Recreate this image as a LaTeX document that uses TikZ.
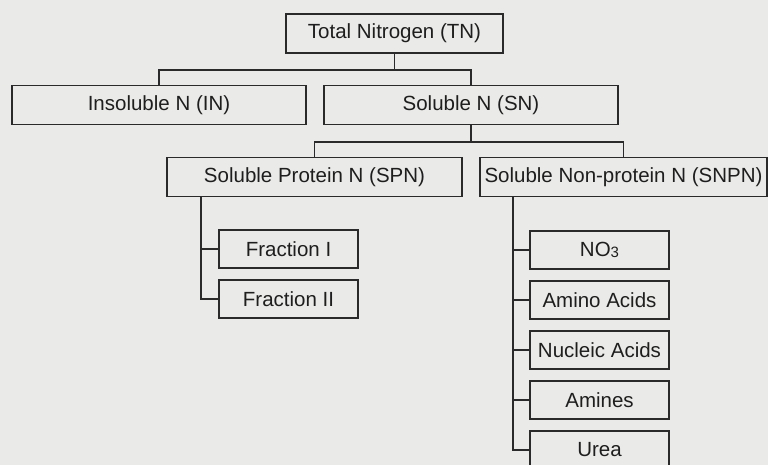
\documentclass[tikz,border=0pt]{standalone}
\usepackage{fontspec}
\setmainfont{Liberation Sans}
\usetikzlibrary{positioning}
\definecolor{paper}{HTML}{EAEAE8}
\definecolor{ink}{HTML}{2A2A2A}
\definecolor{type}{HTML}{1E1E1E}
\tikzset{
  nbox/.style={draw=ink, line width=1.9pt, fill=paper, text=type, inner sep=0pt,
    minimum height=39pt, font=\fontsize{20.5}{22}\selectfont},
  link/.style={draw=ink, line width=1.9pt}
}
\begin{document}
\begin{tikzpicture}[x=1pt, y=-1pt]
  \clip (0,0) rectangle (768,465);
  \fill[paper] (0,0) rectangle (768,465);

  % top level
  \node[nbox, minimum width=217pt] (tn) at (394.5,33.5) {Total Nitrogen (TN)};
  \node[nbox, minimum width=294pt] (in) at (159,105) {Insoluble N (IN)};
  \node[nbox, minimum width=294pt] (sn) at (471,105) {Soluble N (SN)};

  % soluble split
  \node[nbox, minimum width=295pt] (spn) at (314.5,177) {Soluble Protein N (SPN)};
  \node[nbox, minimum width=287pt] (snpn) at (623.5,177) {Soluble Non-protein N (SNPN)};

  % protein fractions
  \node[nbox, minimum width=139pt, minimum height=38pt] (f1) at (288.5,249) {Fraction I};
  \node[nbox, minimum width=139pt, minimum height=38pt] (f2) at (288.5,299) {Fraction II};

  % non-protein compounds
  \node[nbox, minimum width=139pt, minimum height=38pt] (no3) at (599.5,250)
    {NO\raisebox{-1pt}{\fontsize{15}{15}\selectfont 3}};
  \node[nbox, minimum width=139pt, minimum height=38pt] (aa) at (599.5,300) {Amino Acids};
  \node[nbox, minimum width=139pt, minimum height=38pt] (na) at (599.5,350) {Nucleic Acids};
  \node[nbox, minimum width=139pt, minimum height=38pt] (am) at (599.5,400) {Amines};
  \node[nbox, minimum width=139pt, minimum height=38pt] (ur) at (599.5,450) {Urea};

  % bus lines
  \coordinate (bus1) at (0,70);
  \coordinate (bus2) at (0,142);
  \draw[link] (tn.south) -- (tn.south |- bus1);
  \draw[link] (in.north) |- (tn.south |- bus1) -| (sn.north);
  \draw[link] (sn.south) -- (sn.south |- bus2);
  \draw[link] (spn.north) |- (sn.south |- bus2) -| (snpn.north);

  % trunks with side branches
  \coordinate (t1) at ([xshift=35pt]spn.south west);
  \draw[link] (t1) |- (f2.west);
  \draw[link] (t1 |- f1.west) -- (f1.west);

  \coordinate (t2) at ([xshift=34pt]snpn.south west);
  \draw[link] (t2) |- (ur.west);
  \draw[link] (t2 |- no3.west) -- (no3.west);
  \draw[link] (t2 |- aa.west) -- (aa.west);
  \draw[link] (t2 |- na.west) -- (na.west);
  \draw[link] (t2 |- am.west) -- (am.west);
\end{tikzpicture}
\end{document}
